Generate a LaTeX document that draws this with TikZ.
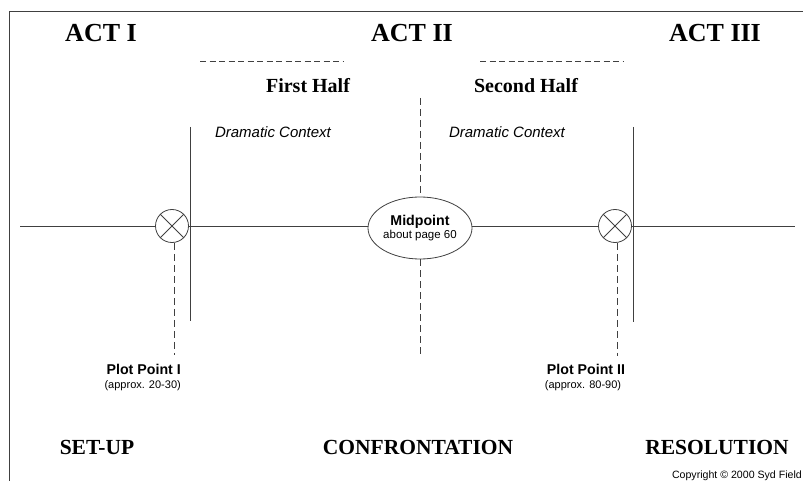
\documentclass[tikz,border=0pt]{standalone}
\usepackage{fontspec}
\setmainfont{Liberation Serif}
\setsansfont{Liberation Sans}
\usetikzlibrary{shapes.geometric}
\begin{document}
\begin{tikzpicture}[x=1pt,y=-1pt,
  line/.style={draw=black!75,line width=0.9pt},
  dline/.style={draw=black!75,line width=0.8pt,dash pattern=on 6pt off 3.5pt},
  act/.style={font=\fontsize{26}{28}\selectfont\bfseries,anchor=base,inner sep=0},
  half/.style={font=\fontsize{20}{22}\selectfont\bfseries,anchor=base,inner sep=0},
  part/.style={font=\fontsize{21.5}{23}\selectfont\bfseries,anchor=base,inner sep=0},
  ctx/.style={font=\sffamily\itshape\fontsize{15}{17}\selectfont,anchor=base,inner sep=0},
  ppt/.style={font=\sffamily\bfseries\fontsize{14.2}{16}\selectfont,anchor=base,inner sep=0},
  ppsub/.style={font=\sffamily\fontsize{11}{13}\selectfont,anchor=base,inner sep=0},
  cross/.style={circle,draw=black!75,line width=0.8pt,minimum size=33pt,inner sep=0}]
\useasboundingbox (0,0) rectangle (803,481);
% frame
\coordinate (fbl) at (9,482);
\coordinate (ftl) at (9,11);
\coordinate (ftr) at (804,11);
\draw[line] (fbl) -- (ftl) -- (ftr);
% titles
\node[act] (act1) at (101,42) {ACT I};
\node[act] (act2) at (412,42) {ACT II};
\node[act] (act3) at (715,42) {ACT III};
% dashed separators
\coordinate (d1a) at (200,61); \coordinate (d1b) at (343,61);
\coordinate (d2a) at (480,61); \coordinate (d2b) at (624,61);
\draw[dline] (d1a) -- (d1b);
\draw[dline] (d2a) -- (d2b);
\node[half] (h1) at (308,93) {First Half};
\node[half] (h2) at (526,93) {Second Half};
\node[ctx] (c1) at (273,138) {Dramatic Context};
\node[ctx] (c2) at (507,138) {Dramatic Context};
% nodes on timeline
\node[cross] (pp1) at (172,226) {};
\node[cross] (pp2) at (615,226) {};
\node[ellipse,draw=black!75,line width=0.8pt,minimum width=104pt,minimum height=62pt,inner sep=0,align=center] (mid) at (420,228)
  {{\sffamily\bfseries\fontsize{14.2}{16}\selectfont Midpoint}\\[1.5pt]{\sffamily\fontsize{11.5}{14}\selectfont about page 60}};
\draw[black!75,line width=0.8pt] (pp1.north west) -- (pp1.south east) (pp1.north east) -- (pp1.south west);
\draw[black!75,line width=0.8pt] (pp2.north west) -- (pp2.south east) (pp2.north east) -- (pp2.south west);
% timeline
\coordinate (tl0) at (20,226);
\coordinate (tl1) at (795,226);
\draw[line] (tl0) -- (pp1.west);
\draw[line] (pp1.east) -- (mid.west |- pp1.east);
\draw[line] (mid.east |- pp2.west) -- (pp2.west);
\draw[line] (pp2.east) -- (tl1);
% solid act dividers
\coordinate (v1a) at (190,127); \coordinate (v1b) at (190,321);
\coordinate (v2a) at (633,127); \coordinate (v2b) at (633,322);
\draw[line] (v1a) -- (v1b);
\draw[line] (v2a) -- (v2b);
% dashed verticals
\coordinate (m0) at (420,98);
\coordinate (m1) at (420,354);
\draw[dline,dash pattern=on 7pt off 4pt] (m0) -- (mid.north);
\draw[dline,dash pattern=on 7pt off 4pt] (mid.south) -- (m1);
\coordinate (p1e) at (174,355);
\coordinate (p2e) at (617,356);
\draw[dline,dash pattern=on 7pt off 4pt] (pp1.south -| p1e) -- (p1e);
\draw[dline,dash pattern=on 7pt off 4pt] (pp2.south -| p2e) -- (p2e);
% plot point labels
\node[ppt,anchor=base east] (ppl1) at (181,374) {Plot Point I};
\node[ppsub,anchor=base east] (pps1) at (181,388) {(approx. 20-30)};
\node[ppt] (ppl2) at (586,374) {Plot Point II};
\node[ppsub] (pps2) at (583,388) {(approx. 80-90)};
% bottom labels
\node[part] (setup) at (97,454) {SET-UP};
\node[part] (conf) at (418,454) {CONFRONTATION};
\node[part] (res) at (717,454) {RESOLUTION};
\node[font=\sffamily\fontsize{10.6}{12}\selectfont,anchor=base east,inner sep=0] (copy) at (802,478) {Copyright © 2000 Syd Field};
\end{tikzpicture}
\end{document}
